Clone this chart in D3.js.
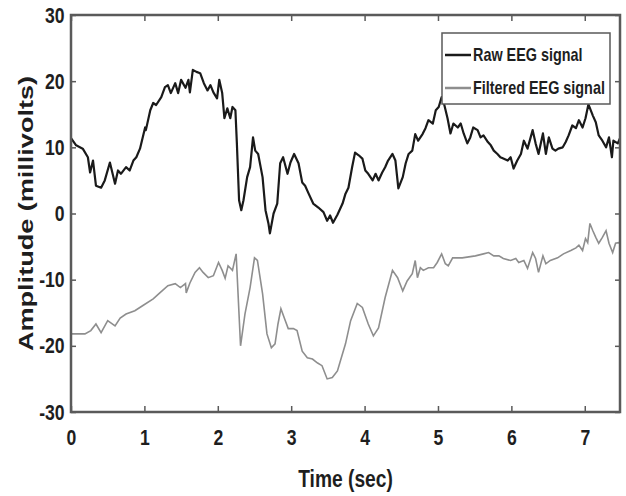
<!DOCTYPE html>
<html lang="en">
<head>
  <meta charset="utf-8">
  <title>EEG signal</title>
  <script src="https://d3js.org/d3.v7.min.js"></script>
  <style type="text/css">
    body { margin: 0; background: #fff; }
    text { font-family: "Liberation Sans", Arial, sans-serif; fill: #1e1e1e; }
  </style>
</head>
<body>
  <div id="chart"></div>
  <script type="text/javascript">
    // values (time in sec, amplitude in millivolts)
    const rawTime = [0,0.07,0.16,0.23,0.26,0.30,0.34,0.41,0.46,0.53,0.60,0.64,0.68,0.75,0.80,0.85,0.89,0.94,1.01,1.02,
      1.08,1.12,1.16,1.23,1.28,1.32,1.36,1.42,1.46,1.50,1.56,1.60,1.62,1.66,1.71,1.76,1.81,1.86,1.90,1.94,
      1.99,2.02,2.06,2.09,2.13,2.17,2.20,2.24,2.26,2.29,2.32,2.35,2.40,2.44,2.48,2.51,2.55,2.61,2.65,2.69,
      2.71,2.76,2.81,2.85,2.89,2.95,2.99,3.04,3.10,3.15,3.19,3.23,3.30,3.37,3.44,3.49,3.53,3.57,3.63,3.70,
      3.74,3.78,3.83,3.87,3.92,3.97,4.01,4.05,4.11,4.15,4.19,4.24,4.28,4.32,4.38,4.42,4.46,4.52,4.56,4.60,
      4.65,4.69,4.73,4.79,4.83,4.87,4.93,4.97,5.01,5.05,5.08,5.13,5.17,5.21,5.27,5.31,5.35,5.40,5.44,5.48,
      5.54,5.58,5.62,5.68,5.72,5.76,5.81,5.85,5.89,5.95,5.99,6.03,6.08,6.13,6.17,6.22,6.29,6.33,6.37,6.43,
      6.47,6.51,6.56,6.60,6.64,6.70,6.74,6.78,6.83,6.88,6.92,6.97,7.01,7.05,7.11,7.15,7.19,7.24,7.29,7.33,
      7.37,7.39,7.45,7.48];
    const rawAmp = [11.4,10.3,9.8,8.5,6.2,8,4.2,3.9,5,7.7,4.5,6.5,6,7,6.5,8,8.5,9.8,13,12.6,
      15.6,16.7,16.4,17.6,19.1,19.4,18.2,19.7,18.2,20.2,19,20.2,18.3,21.7,21.4,21.2,19.7,18.6,19.4,18.3,
      17.4,20.2,18.2,14.4,15.9,14.4,16.1,15.6,10.6,2,0.5,2,5.5,7,11.5,9.5,9,5.5,0.5,-1.5,
      -3,0,1.5,7.6,8.5,6,7.7,9,7.6,4.7,4.2,3.2,1.5,0.9,0.2,-1.1,-0.3,-1.4,-0.2,1.5,
      3,3.9,7,9.2,8.8,8.3,6.5,6,5,6,5,6.2,7,8,9,8,3.8,5.5,7.6,9,
      9.5,12,11,12,12.9,14.1,13.6,15.6,16.1,17.6,16.7,14.4,12.1,13.6,13,13.6,12.1,10.6,11.5,13,
      12.6,11.5,11.8,10.8,10.3,9.5,9,8.5,8.3,8,8.5,6.8,8,9,11,9.8,12.6,10.6,9,12.1,
      9,11.5,9.8,9.5,9.8,10,10.8,11.8,13.3,12.9,14.1,13,14.4,16.5,14.8,13.8,11.8,11,10,11.5,
      8.5,11,10.6,11.4];

    const filtTime = [0,0.19,0.27,0.34,0.41,0.50,0.60,0.67,0.75,0.87,0.98,1.12,1.21,1.32,1.42,1.49,1.56,1.57,1.62,1.69,
      1.75,1.80,1.87,1.94,2.01,2.06,2.10,2.14,2.20,2.25,2.31,2.37,2.44,2.50,2.54,2.61,2.67,2.73,2.78,2.82,
      2.86,2.92,2.96,3.03,3.08,3.15,3.22,3.29,3.36,3.42,3.49,3.56,3.63,3.67,3.74,3.81,3.90,3.97,4.05,4.12,
      4.19,4.28,4.38,4.45,4.52,4.58,4.65,4.69,4.72,4.76,4.80,4.87,4.94,4.99,5.05,5.10,5.14,5.20,5.33,5.51,
      5.62,5.69,5.76,5.83,5.89,5.99,6.06,6.10,6.17,6.22,6.29,6.33,6.37,6.43,6.47,6.53,6.63,6.71,6.81,6.88,
      6.92,6.97,7.01,7.04,7.07,7.11,7.15,7.19,7.24,7.29,7.33,7.38,7.42,7.46,7.48];
    const filtAmp = [-18.2,-18.2,-17.7,-16.7,-18,-16.2,-17,-15.8,-15.2,-14.7,-13.9,-12.9,-12,-10.9,-10.6,-11.2,-10.6,-12,-10.5,-8.9,
      -8.2,-8.9,-9.7,-9.4,-7.4,-8.6,-9.8,-7.9,-8.6,-6.1,-20,-15.2,-11.2,-6.7,-7.1,-12.1,-18.2,-20.3,-19.7,-16.7,
      -14.4,-16.2,-17.4,-17.4,-17.7,-20.8,-21.8,-22,-22.6,-23,-25,-24.8,-23.8,-22.3,-19.7,-16.2,-13.6,-14.2,-16.7,-18.5,
      -17.3,-12.7,-8.6,-9.7,-11.7,-10.2,-9.1,-7.1,-9.7,-8.2,-8.6,-8.2,-8.2,-7.4,-6.1,-7.6,-7.9,-6.7,-6.7,-6.4,
      -6.1,-5.9,-6.4,-6.4,-6.8,-7.1,-6.8,-7.4,-7.1,-8.3,-5.9,-6.8,-8.9,-6.4,-7.6,-7.1,-6.7,-6.1,-5.6,-5.2,
      -4.8,-5.6,-3.8,-4.4,-1.5,-2.6,-3.6,-4.5,-3.6,-2.6,-4.5,-5.9,-4.5,-4.4,-4.5];

    const xTicks = [0, 1, 2, 3, 4, 5, 6, 7];
    const yTicks = [-30, -20, -10, 0, 10, 20, 30];
    const seriesNames = ["Raw EEG signal", "Filtered EEG signal"];
    const seriesColors = ["#1a1a1a", "#8e8e8e"];

    const w = 626;
    const h = 496;
    const margin = {top: 15, right: 6, bottom: 84, left: 71};
    const squeeze = "scale(0.8,1)"; // text in the picture is narrow

    const xScale = d3.scaleLinear().domain([0, 7.48]).range([margin.left, w - margin.right]);
    const yScale = d3.scaleLinear().domain([-30, 30]).range([h - margin.bottom, margin.top]);

    const svg = d3.select("#chart").append("svg")
        .attr("width", w)
        .attr("height", h);

    const line = d3.line()
        .x(d => xScale(d[0]))
        .y(d => yScale(d[1]));

    svg.append("path")
        .datum(d3.zip(filtTime, filtAmp))
        .attr("fill", "none")
        .attr("stroke", seriesColors[1])
        .attr("stroke-width", 1.6)
        .attr("d", line);

    svg.append("path")
        .datum(d3.zip(rawTime, rawAmp))
        .attr("fill", "none")
        .attr("stroke", seriesColors[0])
        .attr("stroke-width", 2.2)
        .attr("stroke-linejoin", "round")
        .attr("d", line);

    // axes, ticks pointing inwards like matlab
    const axisColor = "#5a5a5a";
    function styleAxis(g) {
      g.select(".domain").remove();
      g.selectAll(".tick line").attr("stroke", axisColor).attr("stroke-width", 1.5);
      g.selectAll("text").attr("fill", "#1e1e1e").style("font-size", "22px").style("font-weight", "bold");
    }

    svg.append("g")
        .attr("transform", `translate(0,${h - margin.bottom})`)
        .call(d3.axisBottom(xScale).tickValues(xTicks).tickSize(-6).tickPadding(17).tickFormat(d => String(d)))
        .call(styleAxis)
        .selectAll("text").attr("transform", squeeze);

    svg.append("g")
        .attr("transform", `translate(${margin.left},0)`)
        .call(d3.axisLeft(yScale).tickValues(yTicks).tickSize(-5).tickPadding(8).tickFormat(d => String(d)))
        .call(styleAxis)
        .selectAll("text").attr("transform", squeeze);

    svg.append("g")
        .attr("transform", `translate(0,${margin.top})`)
        .call(d3.axisTop(xScale).tickValues(xTicks).tickSize(-6).tickFormat(""))
        .call(styleAxis);

    svg.append("g")
        .attr("transform", `translate(${w - margin.right},0)`)
        .call(d3.axisRight(yScale).tickValues(yTicks).tickSize(-5).tickFormat(""))
        .call(styleAxis);

    // box round the plot
    svg.append("rect")
        .attr("x", xScale(0))
        .attr("y", yScale(30))
        .attr("width", xScale(7.48) - xScale(0))
        .attr("height", yScale(-30) - yScale(30))
        .attr("fill", "none")
        .attr("stroke", axisColor)
        .attr("stroke-width", 2.5);

    // axis titles
    svg.append("g")
        .attr("transform", `translate(${(margin.left + w - margin.right) / 2},487)`)
      .append("text")
        .attr("transform", squeeze)
        .style("text-anchor", "middle")
        .style("font-size", "24px")
        .style("font-weight", "bold")
        .text("Time (sec)");

    svg.append("text")
        .attr("transform", `translate(33,${(margin.top + h - margin.bottom) / 2}) rotate(-90)`)
        .style("text-anchor", "middle")
        .style("font-size", "21px")
        .style("font-weight", "bold")
        .attr("textLength", 275)
        .attr("lengthAdjust", "spacingAndGlyphs")
        .text("Amplitude (millivolts)");

    // legend
    const legend = svg.append("g").attr("transform", "translate(442,33)");
    legend.append("rect")
        .attr("width", 168)
        .attr("height", 71)
        .attr("fill", "#fff")
        .attr("stroke", axisColor)
        .attr("stroke-width", 1.5);

    const items = legend.selectAll(".legend")
        .data(seriesNames)
        .enter().append("g")
        .attr("class", "legend")
        .attr("transform", (d, i) => `translate(0,${22 + i * 33})`);

    items.append("line")
        .attr("x1", 3)
        .attr("x2", 29)
        .attr("stroke", (d, i) => seriesColors[i])
        .attr("stroke-width", 2.5);

    items.append("g")
        .attr("transform", "translate(31,0)")
      .append("text")
        .attr("transform", squeeze)
        .attr("dy", ".35em")
        .style("font-size", "18px")
        .style("font-weight", "bold")
        .text(d => d);
  </script>
</body>
</html>
